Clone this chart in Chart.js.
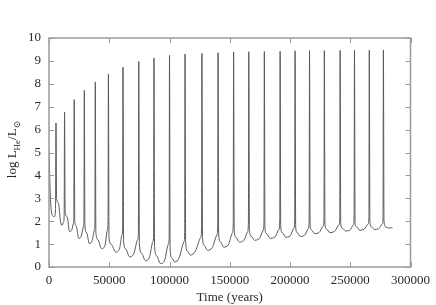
<!DOCTYPE html>
<html>
<head>
<meta charset="utf-8">
<script src="https://cdn.jsdelivr.net/npm/chart.js@4"></script>
<style>
  body { margin: 0; background: #fff; }
  canvas { display: block; }
</style>
</head>
<body>
<canvas id="pulseChart" width="436" height="305"></canvas>
<script>
// Time (years) of each sample
const times = [
    0, 1200, 2800, 4500, 5400,
    5800, 6300, 7800, 9500, 10800, 12000, 12600,
    12900, 13400, 15000, 17000, 18800, 20200, 20600,
    20900, 21400, 22500, 24700, 26800, 28500, 29000,
    29300, 29800, 31200, 33500, 35800, 37600, 38100,
    38400, 38900, 40500, 43600, 46500, 48400, 49000,
    49300, 49800, 51500, 55400, 58500, 60600, 61100,
    61400, 61900, 63500, 67000, 70500, 73600, 74200,
    74500, 75000, 76800, 80000, 83500, 86200, 86800,
    87100, 87600, 89300, 92500, 96000, 99100, 99700,
    100000, 100500, 101800, 104500, 108000, 112000, 112600,
    112900, 113400, 114800, 117500, 121500, 126000, 126600,
    126900, 127400, 128800, 131500, 135500, 139400, 140000,
    140300, 140800, 142200, 145000, 148800, 152300, 152900,
    153200, 153700, 155100, 158000, 161500, 164900, 165500,
    165800, 166300, 167700, 170500, 174200, 177800, 178400,
    178700, 179200, 180600, 183500, 187300, 190900, 191500,
    191800, 192300, 193600, 196500, 200000, 203300, 203900,
    204200, 204700, 206000, 208700, 212000, 215400, 215900,
    216200, 216700, 218000, 220700, 224000, 227700, 228200,
    228500, 229000, 230300, 233200, 236800, 240800, 241300,
    241600, 242100, 243400, 246200, 249500, 252700, 253200,
    253500, 254000, 255300, 258000, 261500, 265000, 265500,
    265800, 266300, 267600, 270300, 273500, 276800, 277200,
    277500, 278000, 279500, 282000, 285000
];

// log L_He / L_sun at each sample
const logLHe = [
    5.1, 3.0, 2.25, 2.2, 2.5,
    6.29, 3.0, 2.8, 2.0, 1.82, 1.95, 2.3,
    6.77, 2.4, 2.2, 1.55, 1.6, 1.9, 2.2,
    7.31, 2.0, 1.8, 1.25, 1.35, 1.75, 2.1,
    7.72, 1.8, 1.5, 1.02, 1.15, 1.6, 1.9,
    8.08, 1.5, 1.2, 0.8, 0.95, 1.6, 2.0,
    8.43, 1.3, 1.0, 0.65, 0.8, 1.4, 1.7,
    8.73, 1.1, 0.8, 0.44, 0.6, 1.2, 1.5,
    8.98, 1.0, 0.6, 0.28, 0.45, 1.1, 1.4,
    9.13, 0.9, 0.5, 0.15, 0.3, 1.0, 1.3,
    9.24, 0.8, 0.4, 0.22, 0.4, 1.1, 1.5,
    9.30, 1.1, 0.7, 0.52, 0.7, 1.3, 1.7,
    9.33, 1.3, 0.95, 0.73, 0.85, 1.4, 1.8,
    9.36, 1.4, 1.1, 0.87, 0.97, 1.5, 1.9,
    9.38, 1.6, 1.3, 1.09, 1.15, 1.55, 2.0,
    9.40, 1.6, 1.35, 1.17, 1.22, 1.6, 2.0,
    9.41, 1.7, 1.45, 1.25, 1.3, 1.65, 2.05,
    9.42, 1.75, 1.5, 1.3, 1.35, 1.7, 2.05,
    9.44, 1.75, 1.5, 1.33, 1.38, 1.7, 2.05,
    9.45, 1.8, 1.6, 1.45, 1.5, 1.8, 2.1,
    9.45, 1.85, 1.65, 1.5, 1.55, 1.85, 2.15,
    9.46, 1.9, 1.7, 1.57, 1.6, 1.85, 2.15,
    9.47, 1.9, 1.75, 1.6, 1.65, 1.9, 2.2,
    9.47, 1.95, 1.75, 1.63, 1.67, 1.9, 2.2,
    9.48, 2.0, 1.75, 1.7, 1.72
];

const xTicks = [0, 50000, 100000, 150000, 200000, 250000, 300000];
const yTicks = [0, 1, 2, 3, 4, 5, 6, 7, 8, 9, 10];

const serif = { family: '"Liberation Serif", "DejaVu Serif", serif', size: 13 };
const inkColor = '#2a2a2a';
const frameColor = '#9a9a9a';

// gnuplot style frame: box border with inward ticks on all four sides,
// plus the y title with subscripts
const framePlugin = {
    id: 'frame',
    afterDraw(chart) {
        const { ctx, chartArea: a, scales: { x, y } } = chart;
        ctx.save();
        ctx.strokeStyle = frameColor;
        ctx.lineWidth = 1.5;
        ctx.strokeRect(a.left, a.top, a.right - a.left, a.bottom - a.top);

        ctx.lineWidth = 1;
        ctx.beginPath();
        x.ticks.forEach(t => {
            const px = Math.round(x.getPixelForValue(t.value)) + 0.5;
            ctx.moveTo(px, a.bottom); ctx.lineTo(px, a.bottom - 5);
            ctx.moveTo(px, a.top); ctx.lineTo(px, a.top + 5);
        });
        y.ticks.forEach(t => {
            const py = Math.round(y.getPixelForValue(t.value)) + 0.5;
            ctx.moveTo(a.left, py); ctx.lineTo(a.left + 5, py);
            ctx.moveTo(a.right, py); ctx.lineTo(a.right - 5, py);
        });
        ctx.stroke();

        // y axis title: log L_He / L_sun
        const big = '13px ' + serif.family;
        const small = '9px ' + serif.family;
        const parts = [
            { t: 'log L', f: big, dy: 0 },
            { t: 'He', f: small, dy: 4 },
            { t: '/L', f: big, dy: 0 },
            { t: '\u2299', f: small, dy: 4 }
        ];
        let total = 0;
        parts.forEach(p => { ctx.font = p.f; p.w = ctx.measureText(p.t).width; total += p.w; });
        ctx.translate(16, (a.top + a.bottom) / 2 - 3);
        ctx.rotate(-Math.PI / 2);
        ctx.fillStyle = inkColor;
        ctx.textBaseline = 'alphabetic';
        let cx = -total / 2;
        parts.forEach(p => {
            ctx.font = p.f;
            ctx.fillText(p.t, cx, p.dy);
            cx += p.w;
        });
        ctx.restore();
    }
};

function initializeChart() {
    const points = times.map((t, i) => ({ x: t, y: logLHe[i] }));
    const ctx = document.getElementById('pulseChart').getContext('2d');
    new Chart(ctx, {
        type: 'line',
        data: {
            datasets: [{
                data: points,
                borderColor: '#5a5a5a',
                borderWidth: 1,
                pointRadius: 0,
                cubicInterpolationMode: 'monotone',
                fill: false
            }]
        },
        options: {
            responsive: false,
            animation: false,
            layout: { padding: { left: 0, right: 22, top: 38, bottom: 0 } },
            plugins: {
                legend: { display: false },
                tooltip: { enabled: false }
            },
            scales: {
                x: {
                    type: 'linear',
                    min: 0,
                    max: 300000,
                    grid: { display: false, drawTicks: false },
                    border: { display: false },
                    afterBuildTicks: s => { s.ticks = xTicks.map(v => ({ value: v })); },
                    afterFit: s => { s.height = 38; },
                    ticks: {
                        callback: v => String(v),
                        font: serif,
                        color: inkColor,
                        padding: 6,
                        maxRotation: 0
                    },
                    title: {
                        display: true,
                        text: 'Time (years)',
                        font: serif,
                        color: inkColor,
                        padding: { top: 0, bottom: 0 }
                    }
                },
                y: {
                    min: 0,
                    max: 10,
                    grid: { display: false, drawTicks: false },
                    border: { display: false },
                    afterBuildTicks: s => { s.ticks = yTicks.map(v => ({ value: v })); },
                    afterFit: s => { s.width = 49; },
                    ticks: {
                        font: serif,
                        color: inkColor,
                        padding: 8
                    }
                }
            }
        },
        plugins: [framePlugin]
    });
}

document.addEventListener('DOMContentLoaded', initializeChart);
</script>
</body>
</html>
